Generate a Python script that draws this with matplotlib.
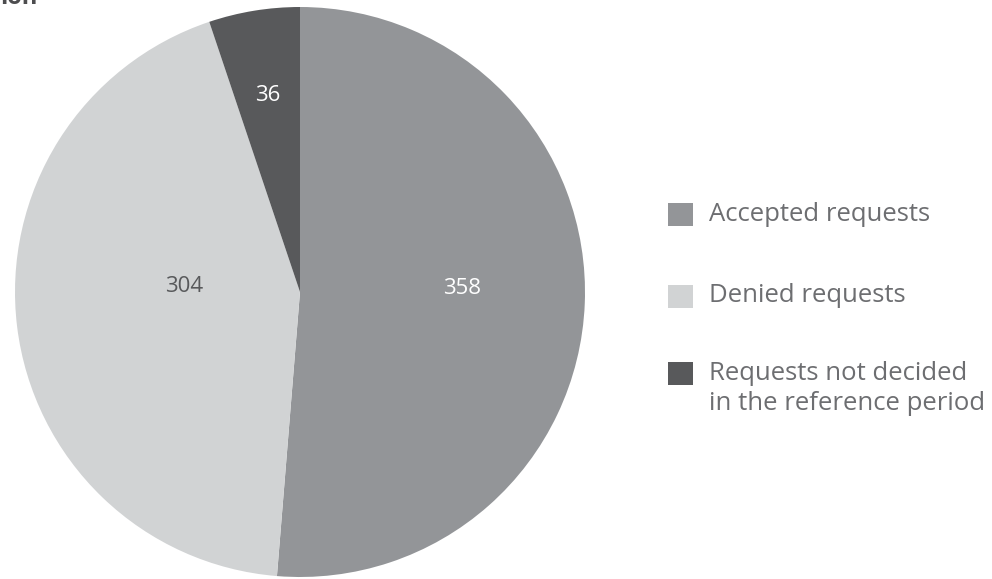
import numpy as np
import matplotlib
matplotlib.use("Agg")
import matplotlib.pyplot as plt
from matplotlib.patches import Rectangle

# ── Data ──────────────────────────────────────────────────────────────────────
labels = ["Accepted requests", "Denied requests",
          "Requests not decided\nin the reference period"]
values = [358, 304, 36]
colors = ["#939598", "#d1d3d4", "#58595b"]

plt.rcParams["font.family"] = ["Open Sans", "DejaVu Sans"]

fig = plt.figure(figsize=(9.92, 5.79), dpi=100)
ax = fig.add_axes([15 / 992, 2 / 579, 570 / 992, 570 / 579])

wedges, _ = ax.pie(values, colors=colors, startangle=90, counterclock=False,
                   radius=1.0, wedgeprops=dict(linewidth=0))
ax.set_xlim(-1, 1); ax.set_ylim(-1, 1)
ax.set_aspect("equal")
ax.axis("off")

# value labels inside slices (radius, vertical nudge, colour)
label_style = [(0.57, 0.035, "white"), (0.41, 0.07, "#58595b"), (0.70, 0.0, "white")]
for w, v, (r, dy, c) in zip(wedges, values, label_style):
    ang = np.deg2rad((w.theta1 + w.theta2) / 2)
    ax.text(r * np.cos(ang), r * np.sin(ang) + dy, str(v),
            ha="center", va="center", color=c, fontsize=16)

# ── Legend (drawn by hand) ────────────────────────────────────────────────────
W, H = 992, 579
row_y = [214, 296, 373]
for w, lab, y in zip(wedges, labels, row_y):
    fig.add_artist(Rectangle((668 / W, (H - y - 11.5) / H), 25 / W, 23 / H,
                             transform=fig.transFigure,
                             facecolor=w.get_facecolor(), edgecolor="none"))
    for k, line in enumerate(lab.split("\n")):
        fig.text(709 / W, (H - y - 31 * k) / H, line, ha="left", va="center",
                 color="#6d6e71", fontsize=18.5)

# cropped heading at the very top (cut off in the original as well)
fig.text(0.0, (H - 4) / H, "ion", ha="left", va="baseline",
         fontsize=17, fontweight="bold", color="#4d4d4f")

plt.savefig("out.png", dpi=100)
